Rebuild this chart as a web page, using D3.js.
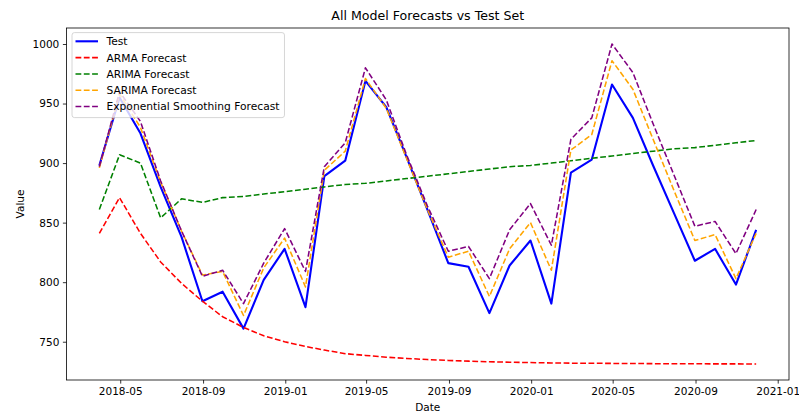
<!DOCTYPE html>
<html>
<head>
<meta charset="utf-8">
<script src="https://cdn.jsdelivr.net/npm/d3@7"></script>
<style>
  body { margin: 0; background: #fff; }
  svg { display: block; }
  text { font-family: "DejaVu Sans", sans-serif; fill: #000; }
</style>
</head>
<body>
<svg id="chart" width="799" height="416"></svg>
<script>
// Monthly observation dates (month ends)
const dates = [
  "2018-03-31","2018-04-30","2018-05-31","2018-06-30","2018-07-31","2018-08-31",
  "2018-09-30","2018-10-31","2018-11-30","2018-12-31","2019-01-31","2019-02-28",
  "2019-03-31","2019-04-30","2019-05-31","2019-06-30","2019-07-31","2019-08-31",
  "2019-09-30","2019-10-31","2019-11-30","2019-12-31","2020-01-31","2020-02-29",
  "2020-03-31","2020-04-30","2020-05-31","2020-06-30","2020-07-31","2020-08-31",
  "2020-09-30","2020-10-31","2020-11-30"
];

const testValues = [
  898, 955, 925, 880, 838, 784, 792, 761, 802, 828, 779, 889,
  902, 969, 947, 905, 861, 816, 813, 774, 814, 835, 782, 892,
  903, 966, 938, 898, 858, 818, 828, 798, 844
];

const armaValues = [
  841, 871, 841, 817, 799, 784, 771, 762, 755, 750, 746, 743,
  740, 738.5, 737, 736, 735, 734.3, 733.7, 733.2, 732.8, 732.5, 732.2, 732,
  731.9, 731.8, 731.7, 731.6, 731.5, 731.5, 731.4, 731.4, 731.3
];

const arimaValues = [
  861, 907, 900, 854, 870, 867, 871, 872, 874, 876, 878, 880,
  882, 883, 885, 887, 889, 891, 893, 895, 897, 898, 900, 902,
  904, 906, 908, 910, 912, 913, 915, 917, 919
];

const sarimaValues = [
  896, 958, 930, 884, 843, 806, 809, 772, 812, 837, 796, 894,
  910, 971, 946, 904, 861, 821, 826, 788, 828, 850, 810, 911,
  924, 986, 962, 920, 877, 835, 840, 803, 841
];

const esValues = [
  897, 960, 935, 885, 843, 805, 810, 782, 816, 845, 809, 897,
  917, 980, 953, 907, 864, 826, 830, 803, 844, 866, 831, 920,
  938, 1000, 976, 933, 890, 847, 851, 824, 861
];

const xTickLabels = ["2018-05","2018-09","2019-01","2019-05","2019-09","2020-01","2020-05","2020-09","2021-01"];
const yTickValues = [750, 800, 850, 900, 950, 1000];

const seriesNames = ["Test","ARMA Forecast","ARIMA Forecast","SARIMA Forecast","Exponential Smoothing Forecast"];

const series = [
  { name: seriesNames[0], values: testValues,   color: "#0000ff", width: 2.1,  dash: null },
  { name: seriesNames[1], values: armaValues,   color: "#ff0000", width: 1.55, dash: "5.8,2.5" },
  { name: seriesNames[2], values: arimaValues,  color: "#008000", width: 1.55, dash: "5.8,2.5" },
  { name: seriesNames[3], values: sarimaValues, color: "#ffa500", width: 1.55, dash: "5.8,2.5" },
  { name: seriesNames[4], values: esValues,     color: "#800080", width: 1.55, dash: "5.8,2.5" }
];

const svg = d3.select("#chart");
const plot = { left: 66.5, right: 789, top: 28, bottom: 380 };
const fs = 10.5;

const parseDay = d3.utcParse("%Y-%m-%d");
const parseMonth = d3.utcParse("%Y-%m");
const xs = dates.map(parseDay);

// 5% padding on both axes
const t0 = +xs[0], t1 = +xs[xs.length - 1];
const tPad = (t1 - t0) * 0.05;
const x = d3.scaleUtc()
  .domain([new Date(t0 - tPad), new Date(t1 + tPad)])
  .range([plot.left, plot.right]);

const allVals = series.flatMap(s => s.values);
const vMin = d3.min(allVals), vMax = d3.max(allVals);
const vPad = (vMax - vMin) * 0.05;
const y = d3.scaleLinear()
  .domain([vMin - vPad, vMax + vPad])
  .range([plot.bottom, plot.top]);

// Series lines
const line = d3.line()
  .x((d, i) => x(xs[i]))
  .y(d => y(d));

series.forEach(s => {
  svg.append("path")
    .datum(s.values)
    .attr("d", line)
    .attr("fill", "none")
    .attr("stroke", s.color)
    .attr("stroke-width", s.width)
    .attr("stroke-linejoin", "round")
    .attr("stroke-dasharray", s.dash);
});

// Axes
const tickLen = 3.6, tickPad = 3.6;
const xAxis = d3.axisBottom(x)
  .tickValues(xTickLabels.map(parseMonth))
  .tickFormat(d3.utcFormat("%Y-%m"))
  .tickSizeInner(tickLen).tickSizeOuter(0).tickPadding(tickPad);
const gx = svg.append("g")
  .attr("transform", `translate(0,${plot.bottom})`)
  .call(xAxis);
gx.select(".domain").remove();
gx.selectAll("line").attr("stroke", "#000").attr("stroke-width", 0.8);
gx.selectAll("text").attr("font-size", fs).attr("fill", "#000")
  .attr("font-family", "DejaVu Sans");

const yAxis = d3.axisLeft(y)
  .tickValues(yTickValues)
  .tickFormat(d3.format("d"))
  .tickSizeInner(tickLen).tickSizeOuter(0).tickPadding(tickPad);
const gy = svg.append("g")
  .attr("transform", `translate(${plot.left},0)`)
  .call(yAxis);
gy.select(".domain").remove();
gy.selectAll("line").attr("stroke", "#000").attr("stroke-width", 0.8);
gy.selectAll("text").attr("font-size", fs).attr("fill", "#000")
  .attr("font-family", "DejaVu Sans");

// Frame
svg.append("rect")
  .attr("x", plot.left).attr("y", plot.top)
  .attr("width", plot.right - plot.left).attr("height", plot.bottom - plot.top)
  .attr("fill", "none").attr("stroke", "#000").attr("stroke-width", 0.8);

// Title and axis labels
svg.append("text")
  .attr("x", (plot.left + plot.right) / 2).attr("y", 19.5)
  .attr("text-anchor", "middle").attr("font-size", 12.6)
  .text("All Model Forecasts vs Test Set");

svg.append("text")
  .attr("x", (plot.left + plot.right) / 2).attr("y", 411)
  .attr("text-anchor", "middle").attr("font-size", fs)
  .text("Date");

svg.append("text")
  .attr("transform", `translate(23.5,${(plot.top + plot.bottom) / 2}) rotate(-90)`)
  .attr("text-anchor", "middle").attr("font-size", fs)
  .text("Value");

// Legend
const lg = svg.append("g");
const lgX = plot.left + 5.5, lgY = plot.top + 4.6;
const rowH = 16.3;
const lfs = 10.7;
const box = lg.append("rect")
  .attr("x", lgX).attr("y", lgY)
  .attr("rx", 2.5).attr("ry", 2.5)
  .attr("fill", "#fff").attr("fill-opacity", 0.8)
  .attr("stroke", "#cccccc").attr("stroke-width", 0.8);

let maxW = 0;
series.forEach((s, i) => {
  const cy = lgY + 8.7 + i * rowH;
  lg.append("line")
    .attr("x1", lgX + 3.5).attr("x2", lgX + 26)
    .attr("y1", cy).attr("y2", cy)
    .attr("stroke", s.color).attr("stroke-width", s.width)
    .attr("stroke-dasharray", s.dash);
  const t = lg.append("text")
    .attr("x", lgX + 34.5).attr("y", cy + 3.9)
    .attr("font-size", lfs)
    .text(s.name);
  maxW = Math.max(maxW, t.node().getComputedTextLength());
});
box.attr("width", 34.5 + maxW + 5).attr("height", rowH * series.length + 3.5);
</script>
</body>
</html>
